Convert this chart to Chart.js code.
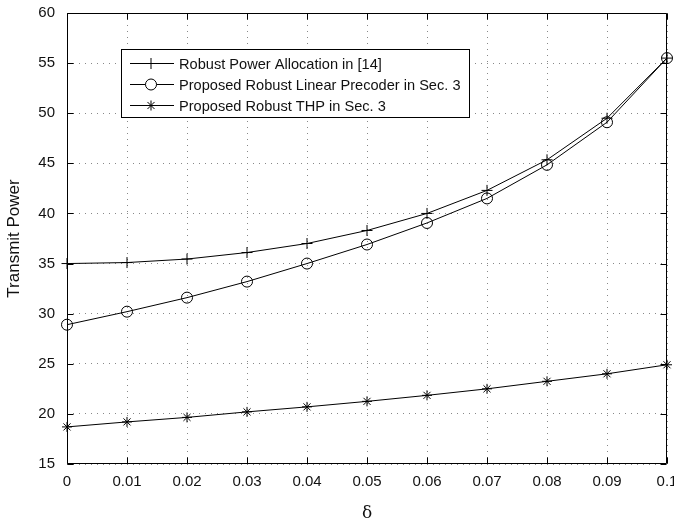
<!DOCTYPE html>
<html>
<head>
<meta charset="utf-8">
<script src="https://cdn.jsdelivr.net/npm/chart.js@4/dist/chart.umd.min.js"></script>
<style>
html,body{margin:0;padding:0;background:#fff;}
#wrap{width:674px;height:520px;position:relative;}
</style>
</head>
<body>
<div id="wrap"><canvas id="c" width="674" height="520"></canvas></div>
<script>
const deltas = [0, 0.01, 0.02, 0.03, 0.04, 0.05, 0.06, 0.07, 0.08, 0.09, 0.1];
const robustPowerAlloc = [35.0, 35.1, 35.45, 36.1, 37.0, 38.3, 40.0, 42.3, 45.35, 49.5, 55.5];
const robustLinear = [28.9, 30.2, 31.6, 33.2, 35.0, 36.9, 39.05, 41.5, 44.85, 49.1, 55.5];
const robustTHP = [18.7, 19.2, 19.65, 20.2, 20.7, 21.25, 21.85, 22.5, 23.25, 24.0, 24.9];
const seriesNames = ['Robust Power Allocation in [14]', 'Proposed Robust Linear Precoder in Sec. 3', 'Proposed Robust THP in Sec. 3'];
const xTicks = [0, 0.01, 0.02, 0.03, 0.04, 0.05, 0.06, 0.07, 0.08, 0.09, 0.1];
const xTickLabels = ['0', '0.01', '0.02', '0.03', '0.04', '0.05', '0.06', '0.07', '0.08', '0.09', '0.1'];
const yTicks = [15, 20, 25, 30, 35, 40, 45, 50, 55, 60];
const yTickLabels = ['15', '20', '25', '30', '35', '40', '45', '50', '55', '60'];
const xTitle = 'δ';
const yTitle = 'Transmit Power';

const FONT = "'Liberation Sans', Arial, Helvetica, sans-serif";

function mk(vals){ return deltas.map((d,i)=>({x:d, y:vals[i]})); }

const frame = {
  id: 'frame',
  afterDraw(chart){
    const {ctx, chartArea:a, scales:{x, y}} = chart;
    ctx.save();
    ctx.strokeStyle = '#000';
    ctx.lineWidth = 1;
    ctx.beginPath();
    const L = Math.round(a.left)+0.5, R = Math.round(a.right)-0.5, T = Math.round(a.top)+0.5, B = Math.round(a.bottom)-0.5;
    ctx.rect(L, T, R-L, B-T);
    const tl = 6;
    xTicks.forEach(v=>{
      const px = Math.round(x.getPixelForValue(v))+0.5;
      ctx.moveTo(px, B); ctx.lineTo(px, B-tl);
      ctx.moveTo(px, T); ctx.lineTo(px, T+tl);
    });
    yTicks.forEach(v=>{
      const py = Math.round(y.getPixelForValue(v))+0.5;
      ctx.moveTo(L, py); ctx.lineTo(L+tl, py);
      ctx.moveTo(R, py); ctx.lineTo(R-tl, py);
    });
    ctx.stroke();

    // legend box
    const bx = 121.5, by = 49.5, bw = 348, bh = 68;
    ctx.fillStyle = '#fff';
    ctx.fillRect(bx, by, bw, bh);
    ctx.strokeRect(bx, by, bw, bh);
    ctx.textBaseline = 'middle';
    ctx.textAlign = 'left';
    chart.data.datasets.forEach((ds, i)=>{
      const cy = 63.5 + i*21;
      ctx.beginPath();
      ctx.strokeStyle = '#000';
      ctx.lineWidth = 1;
      ctx.moveTo(130, cy); ctx.lineTo(174, cy);
      ctx.stroke();
      ctx.fillStyle = '#fff';
      Chart.helpers.drawPoint(ctx, {pointStyle: ds.pointStyle, radius: ds.pointRadius, borderWidth: 1, rotation: 0}, 151, cy);
      ctx.fillStyle = '#111';
      ctx.font = '14.6px ' + FONT;
      ctx.fillText(ds.label, 179, cy + 1);
    });
    ctx.restore();
  }
};

const tickBuilder = (arr)=> (scale)=>{ scale.ticks = arr.map(v=>({value:v})); };

new Chart(document.getElementById('c'), {
  type: 'line',
  data: {
    datasets: [
      {label: seriesNames[0], data: mk(robustPowerAlloc), pointStyle: 'cross', pointRadius: 5.5},
      {label: seriesNames[1], data: mk(robustLinear), pointStyle: 'circle', pointRadius: 5.5},
      {label: seriesNames[2], data: mk(robustTHP), pointStyle: 'star', pointRadius: 5}
    ].map(d=>Object.assign(d, {
      borderColor: '#000', backgroundColor: 'rgba(0,0,0,0)', borderWidth: 1,
      pointBorderColor: '#000', pointBackgroundColor: 'rgba(0,0,0,0)', pointBorderWidth: 1,
      tension: 0, fill: false, clip: false
    }))
  },
  options: {
    responsive: false,
    animation: false,
    devicePixelRatio: 1,
    layout: {padding: {left: 0, right: 7, top: 13, bottom: 0}},
    plugins: {legend: {display: false}, tooltip: {enabled: false}},
    scales: {
      x: {
        type: 'linear', min: 0, max: 0.1,
        afterBuildTicks: tickBuilder(xTicks),
        afterFit(s){ s.height = 56; s.paddingLeft = 0; s.paddingRight = 0; },
        grid: {color: '#888', lineWidth: 1, drawTicks: false},
        border: {display: false, dash: [1,5]},
        ticks: {
          color: '#111', font: {family: FONT, size: 15}, padding: 9, maxRotation: 0, autoSkip: false,
          callback: (v, i)=> xTickLabels[i]
        },
        title: {display: true, text: xTitle, color: '#111', font: {family: "'DejaVu Serif', 'Liberation Serif', serif", size: 17}, padding: {top: 4, bottom: -4}}
      },
      y: {
        type: 'linear', min: 15, max: 60,
        afterBuildTicks: tickBuilder(yTicks),
        afterFit(s){ s.width = 67; s.paddingTop = 0; s.paddingBottom = 0; },
        grid: {color: '#888', lineWidth: 1, drawTicks: false},
        border: {display: false, dash: [1,5]},
        ticks: {
          color: '#111', font: {family: FONT, size: 15}, padding: 12,
          callback: (v, i)=> yTickLabels[i]
        },
        title: {display: true, text: yTitle, color: '#111', font: {family: FONT, size: 17}, padding: {top: 4, bottom: 4}}
      }
    }
  },
  plugins: [frame]
});
</script>
</body>
</html>
